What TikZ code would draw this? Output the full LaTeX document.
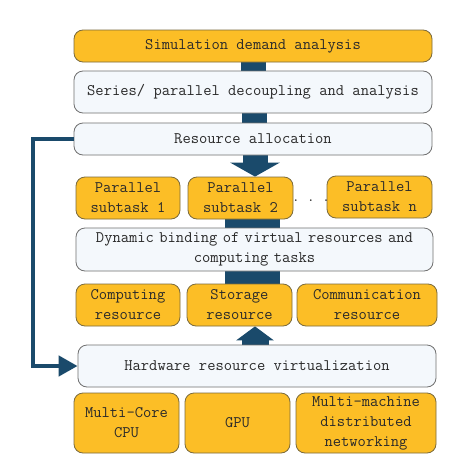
\documentclass[tikz,border=0pt]{standalone}
\usepackage{fontspec}
\usetikzlibrary{arrows.meta, backgrounds}
\definecolor{boxOrange}{HTML}{FCBE26}
\definecolor{edgeOrange}{HTML}{7A6A3C}
\definecolor{boxLight}{HTML}{F4F8FC}
\definecolor{edgeLight}{HTML}{707070}
\definecolor{flowBlue}{HTML}{1A4A6B}
\definecolor{textDark}{HTML}{2A2A2A}

\begin{document}
\begin{tikzpicture}[
        x=1pt, y=-1pt,
        base/.style={rounded corners=9pt, line width=0.8pt, inner sep=0pt, align=center,
            text=textDark, font=\ttfamily\fontsize{16.1}{20}\selectfont},
        o/.style={base, draw=edgeOrange, fill=boxOrange},
        w/.style={base, draw=edgeLight, fill=boxLight},
        bar/.style={draw=flowBlue, line width=#1},
        fat/.style={draw=flowBlue, fill=flowBlue, line width=#1},
        back/.style={draw=flowBlue, line width=4.5pt, -{Triangle[width=20pt, length=19pt]}}
    ]
        \useasboundingbox (0,0) rectangle (474,474);

        \node[o, minimum width=358pt, minimum height=32pt] (demand) at (253,46) {Simulation demand analysis};
        \node[w, minimum width=358pt, minimum height=42pt] (decouple) at (253,92) {Series/ parallel decoupling and analysis};
        \node[w, minimum width=358pt, minimum height=32pt] (alloc) at (253,139) {Resource allocation};

        \node[o, minimum width=104pt, minimum height=42pt] (sub1) at (128,198) {Parallel\\subtask 1};
        \node[o, minimum width=105pt, minimum height=42pt] (sub2) at (240.5,198) {Parallel\\subtask 2};
        \node[o, minimum width=105pt, minimum height=42pt] (subn) at (379.5,197) {Parallel\\subtask n};
        \node[text=textDark, font=\ttfamily\bfseries\fontsize{12.4}{12.4}\selectfont] (dots) at (311,201) {. . .};

        \node[w, minimum width=357pt, minimum height=43pt, text width=350pt] (binding) at (254.5,249.5)
            {Dynamic binding of virtual resources and\\computing tasks};

        \node[o, minimum width=104pt, minimum height=42pt] (comp) at (128,305) {Computing\\resource};
        \node[o, minimum width=105pt, minimum height=42pt] (stor) at (239.5,305) {Storage\\resource};
        \node[o, minimum width=140pt, minimum height=42pt] (comm) at (367,305) {Communication\\resource};

        \node[w, minimum width=358pt, minimum height=42pt] (virt) at (257,366) {Hardware resource virtualization};

        \node[o, minimum width=105pt, minimum height=60pt] (cpu) at (126.5,423) {Multi-Core\\CPU};
        \node[o, minimum width=105pt, minimum height=60pt] (gpu) at (237.5,423) {GPU};
        \node[o, minimum width=140pt, minimum height=60pt] (net) at (366,423) {Multi-machine\\distributed\\networking};

        % connectors behind the boxes
        \begin{scope}[on background layer]
            \fill[white] (0,0) rectangle (474,474);
            \draw[bar=25pt] (253.5,0 |- demand.south) -- (253.5,0 |- decouple.north);
            \draw[bar=25pt] (254,0 |- decouple.south) -- (254,0 |- alloc.north);
            \draw[bar=55pt] (252.5,0 |- sub2.south) -- (252.5,0 |- binding.north);
            \draw[bar=55pt] (252.5,0 |- binding.south) -- (252.5,0 |- stor.north);
            \draw[fat=25pt, -{Triangle[width=49pt, length=14pt]}] (255,0 |- alloc.south) -- (255,0 |- sub2.north);
            \draw[fat=27pt, -{Triangle[width=37pt, length=14pt]}] (255,0 |- virt.north) -- (255,0 |- stor.south);
        \end{scope}
        \draw[back] (alloc.west) -- (33,0 |- alloc.west) -- (33,0 |- virt.west) -- (virt.west);
    \end{tikzpicture}
\end{document}
